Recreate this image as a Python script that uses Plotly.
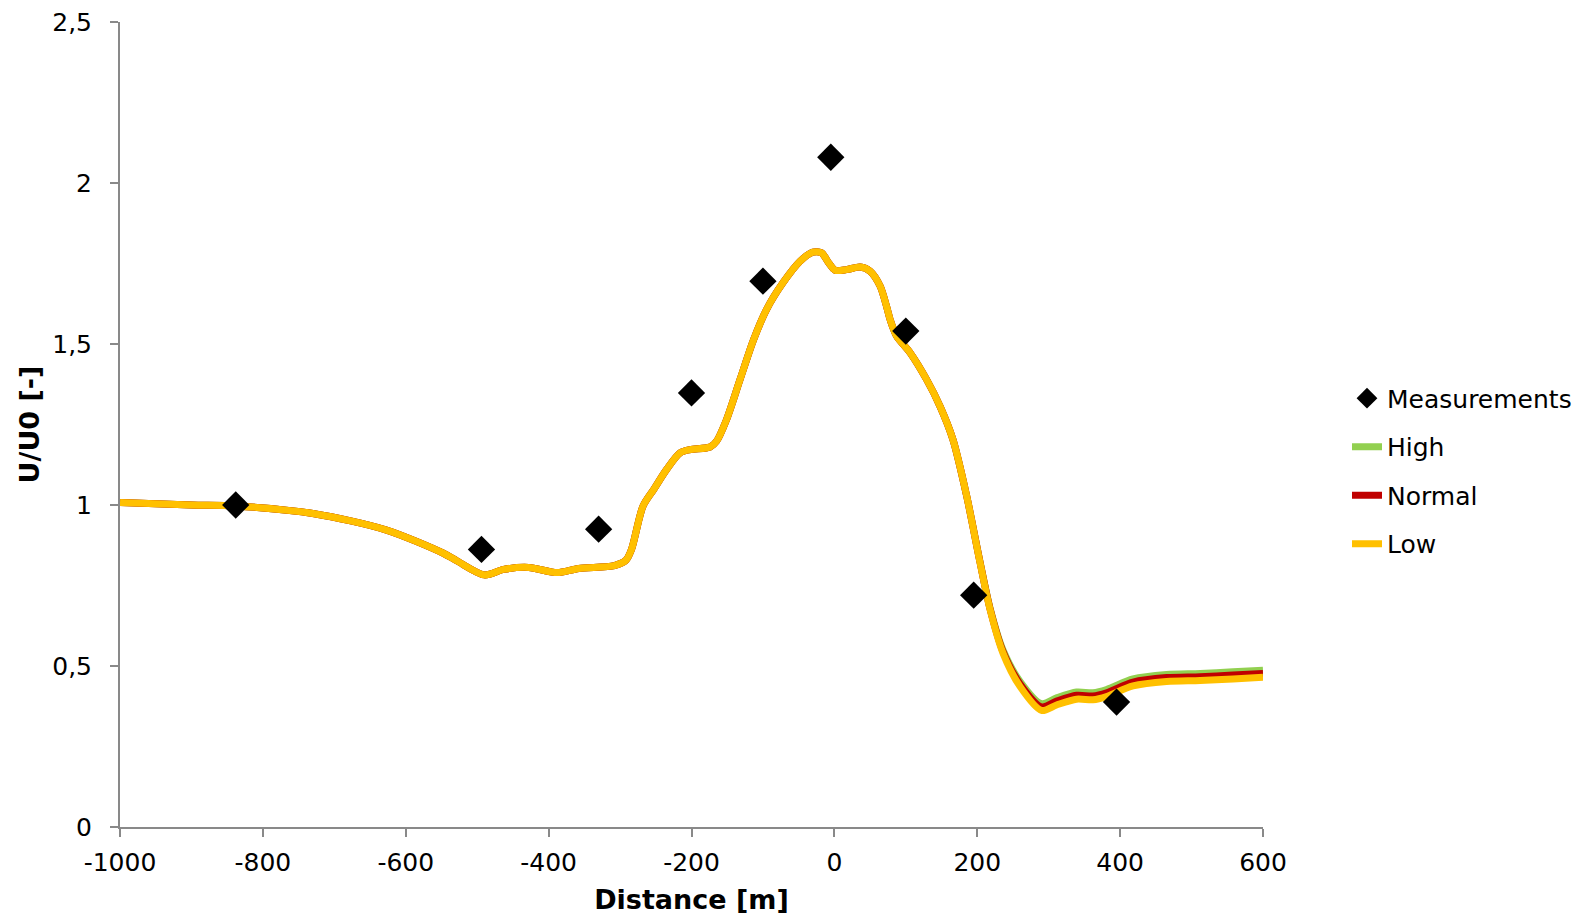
import plotly.graph_objects as go

# Measurements
meas_x = [-838, -494, -330, -200, -100, -5, 100, 195, 395]
meas_y = [1.00, 0.862, 0.925, 1.348, 1.695, 2.080, 1.540, 0.720, 0.388]

# Simulated profiles
sim_x = [-1000, -900, -838, -728, -628, -548, -528, -490, -463, -428, -388, -358,
         -308, -292, -284, -268, -253, -235, -216, -202, -174, -165, -151, -132,
         -113, -95, -72, -48, -30, -18, -8, 1, 17, 36, 50, 64, 73, 78, 87, 106,
         129, 148, 166, 185, 204, 218, 236, 260, 290, 311, 339, 362, 381, 418,
         465, 512, 558, 600]
low = [1.008, 1.000, 0.997, 0.973, 0.923, 0.851, 0.826, 0.783, 0.800, 0.806, 0.790, 0.803,
       0.812, 0.828, 0.862, 0.996, 1.048, 1.110, 1.162, 1.172, 1.180, 1.198, 1.265, 1.390,
       1.514, 1.607, 1.690, 1.757, 1.785, 1.783, 1.752, 1.729, 1.731, 1.739, 1.726, 1.680, 1.617, 1.576, 1.525, 1.473,
       1.390, 1.306, 1.203, 1.030, 0.820, 0.675, 0.540, 0.436, 0.362, 0.379, 0.397, 0.395, 0.405, 0.438,
       0.452, 0.455, 0.460, 0.465]
normal = [1.008, 1.000, 0.997, 0.973, 0.923, 0.851, 0.826, 0.783, 0.800, 0.806, 0.790, 0.803,
          0.812, 0.828, 0.862, 0.996, 1.048, 1.110, 1.162, 1.172, 1.180, 1.198, 1.265, 1.390,
          1.514, 1.607, 1.690, 1.757, 1.785, 1.783, 1.752, 1.729, 1.731, 1.739, 1.726, 1.680, 1.617, 1.576, 1.525, 1.473,
          1.390, 1.306, 1.203, 1.030, 0.821, 0.677, 0.545, 0.444, 0.373, 0.391, 0.409, 0.407, 0.417, 0.450,
          0.464, 0.467, 0.472, 0.477]
high = [1.008, 1.000, 0.997, 0.973, 0.923, 0.851, 0.826, 0.783, 0.800, 0.806, 0.790, 0.803,
        0.812, 0.828, 0.862, 0.996, 1.048, 1.110, 1.162, 1.172, 1.180, 1.198, 1.265, 1.390,
        1.514, 1.607, 1.690, 1.757, 1.785, 1.783, 1.752, 1.729, 1.731, 1.739, 1.726, 1.680, 1.617, 1.576, 1.525, 1.473,
        1.390, 1.306, 1.203, 1.030, 0.822, 0.679, 0.550, 0.452, 0.383, 0.401, 0.419, 0.417, 0.427, 0.460,
        0.474, 0.477, 0.482, 0.487]

x_ticks = [-1000, -800, -600, -400, -200, 0, 200, 400, 600]
x_tick_labels = ["-1000", "-800", "-600", "-400", "-200", "0", "200", "400", "600"]
y_ticks = [0, 0.5, 1, 1.5, 2, 2.5]
y_tick_labels = ["0", "0,5", "1", "1,5", "2", "2,5"]

FONT = "DejaVu Sans"
AXIS_COLOR = "#898989"

fig = go.Figure()
for name, ys, col, rank, grp in [("High", high, "#92D050", 2, "g2"),
                                 ("Normal", normal, "#C00000", 3, "g3"),
                                 ("Low", low, "#FFC000", 4, "g4")]:
    fig.add_trace(go.Scatter(x=sim_x, y=ys, mode="lines", name=name,
                             line=dict(color=col, width=7, shape="spline", smoothing=0.8),
                             legendgroup=grp, legendrank=rank))
fig.add_trace(go.Scatter(x=meas_x, y=meas_y, mode="markers", name="Measurements",
                         marker=dict(symbol="diamond", size=21, color="black"),
                         legendgroup="g1", legendrank=1))

fig.update_layout(
    width=1593, height=917,
    margin=dict(l=120, r=330, t=22, b=90, autoexpand=False),
    paper_bgcolor="white", plot_bgcolor="white",
    separators=",.",
    font=dict(family=FONT, size=25, color="black"),
    showlegend=True,
    legend=dict(x=1347 / 1593, xref="container", xanchor="left",
                y=0.4864, yref="container", yanchor="middle",
                font=dict(family=FONT, size=25, color="black"),
                traceorder="grouped", tracegroupgap=13, bgcolor="rgba(0,0,0,0)"),
)
fig.update_xaxes(range=[-1000, 600], tickvals=x_ticks, ticktext=x_tick_labels,
                 showgrid=False, zeroline=False, automargin=False,
                 showline=True, linecolor=AXIS_COLOR, linewidth=2,
                 ticks="outside", ticklen=8, tickwidth=2, tickcolor=AXIS_COLOR,
                 ticklabelstandoff=4,
                 title=dict(text="<b>Distance [m]</b>", font=dict(family=FONT, size=27),
                            standoff=14))
fig.update_yaxes(range=[0, 2.5], tickvals=y_ticks, ticktext=y_tick_labels,
                 showgrid=False, zeroline=False, automargin=False,
                 showline=True, linecolor=AXIS_COLOR, linewidth=2,
                 ticks="outside", ticklen=8, tickwidth=2, tickcolor=AXIS_COLOR,
                 ticklabelstandoff=13,
                 title=dict(text="<b>U/U0 [-]</b>", font=dict(family=FONT, size=27),
                            standoff=5))

fig.write_html("out.html", config={"displayModeBar": False},
               post_script="document.body.style.margin='0';document.body.style.overflow='hidden';")
